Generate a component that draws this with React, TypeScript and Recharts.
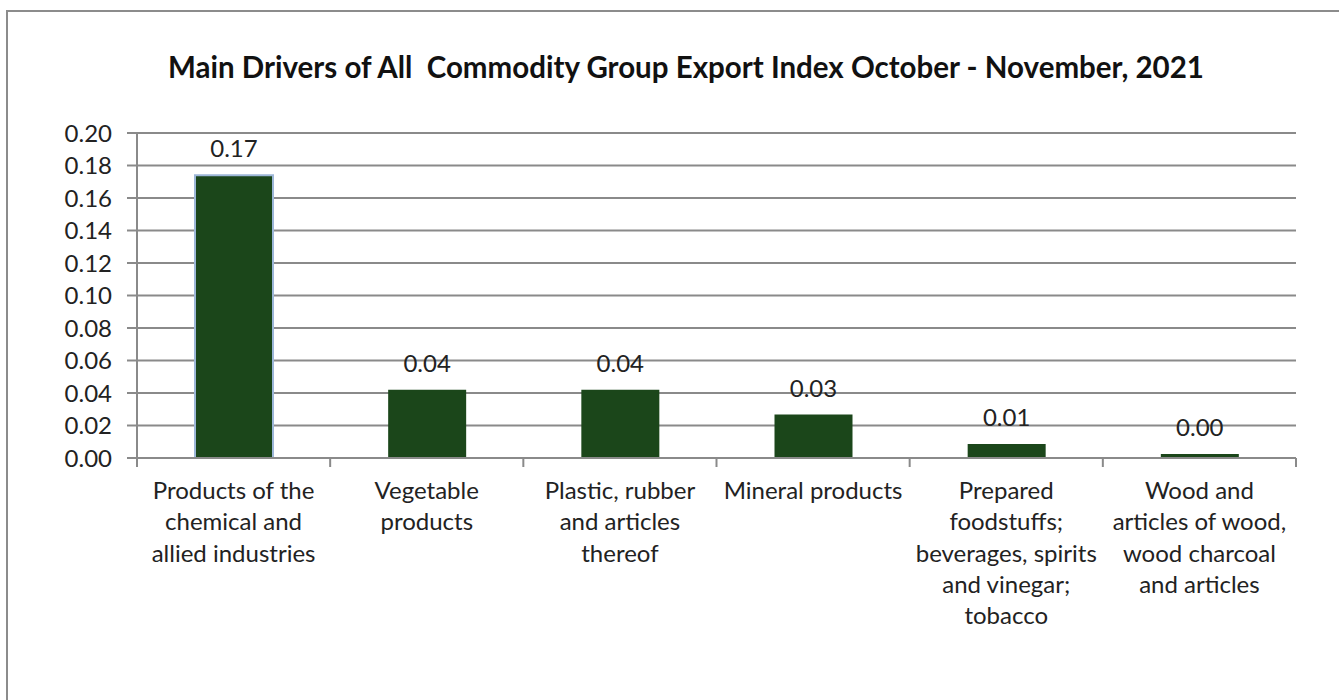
import React from 'react';
import { BarChart, Bar, XAxis, YAxis, CartesianGrid, LabelList, Cell } from 'recharts';

const categories = [
  'Products of the chemical and allied industries',
  'Vegetable products',
  'Plastic, rubber and articles thereof',
  'Mineral products',
  'Prepared foodstuffs; beverages, spirits and vinegar; tobacco',
  'Wood and articles of wood, wood charcoal and articles',
];

// wrapped tick label lines, as in the picture
const categoryLines = [
  ['Products of the', 'chemical and', 'allied industries'],
  ['Vegetable', 'products'],
  ['Plastic, rubber', 'and articles', 'thereof'],
  ['Mineral products'],
  ['Prepared', 'foodstuffs;', 'beverages, spirits', 'and vinegar;', 'tobacco'],
  ['Wood and', 'articles of wood,', 'wood charcoal', 'and articles'],
];

const values = [0.174, 0.042, 0.042, 0.0267, 0.0086, 0.0025];

const yTicks = [0, 0.02, 0.04, 0.06, 0.08, 0.1, 0.12, 0.14, 0.16, 0.18, 0.2];

const title = 'Main Drivers of All  Commodity Group Export Index October - November, 2021';

const data = categories.map((name, i) => ({ name, value: values[i] }));

const FONT = 'Lato, "Open Sans", sans-serif';
const GRID = '#8a8a8a';
const BAR = '#1b461a';

const CHART_W = 1339;
const CHART_H = 700;
const BAND = (1295.7 - 136.7) / categories.length;

function CategoryTick(props: any) {
  const { x, y, payload, index } = props;
  const lines = categoryLines[index] ?? [String(payload.value)];
  // recharts hands y a few px below the axis line; ticks sit just under the axis
  const top = y - 8;
  return (
    <g>
      <line x1={x - BAND / 2} y1={top} x2={x - BAND / 2} y2={top + 9} stroke={GRID} strokeWidth={2} />
      {index === categories.length - 1 && (
        <line x1={x + BAND / 2} y1={top} x2={x + BAND / 2} y2={top + 9} stroke={GRID} strokeWidth={2} />
      )}
      <text x={x} y={top + 41} textAnchor="middle" fontFamily={FONT} fontSize={24} fill="#222">
        {lines.map((l: string, i: number) => (
          <tspan key={i} x={x} dy={i === 0 ? 0 : 31.3}>
            {l}
          </tspan>
        ))}
      </text>
    </g>
  );
}

export default function App() {
  return (
    <div style={{ position: 'absolute', left: 0, top: 0, width: CHART_W, height: CHART_H, background: '#fff' }}>
      <div
        style={{
          position: 'absolute',
          left: 6,
          top: 10,
          width: 1345,
          height: 700,
          border: '2px solid #8c8c8c',
          boxSizing: 'border-box',
        }}
      />
      <div
        style={{
          position: 'absolute',
          left: 0,
          width: 1372,
          top: 47,
          textAlign: 'center',
          fontFamily: FONT,
          fontWeight: 'bold',
          fontSize: 29.5,
          lineHeight: '40px',
          color: '#111',
          whiteSpace: 'pre',
        }}
      >
        {title}
      </div>
      <BarChart
        width={CHART_W}
        height={CHART_H}
        data={data}
        margin={{ top: 133, right: 43, left: 0, bottom: 0 }}
        style={{ position: 'absolute', left: 0, top: 0 }}
      >
        <CartesianGrid vertical={false} stroke={GRID} strokeWidth={2} />
        <XAxis
          dataKey="name"
          height={242}
          interval={0}
          tickLine={false}
          axisLine={{ stroke: GRID, strokeWidth: 2 }}
          tick={<CategoryTick />}
        />
        <YAxis
          width={137}
          domain={[0, 0.2]}
          ticks={yTicks}
          interval={0}
          tickSize={10}
          tickMargin={15}
          tickLine={{ stroke: GRID, strokeWidth: 2 }}
          axisLine={{ stroke: GRID, strokeWidth: 2 }}
          tickFormatter={(v: number) => v.toFixed(2)}
          tick={{ fontFamily: FONT, fontSize: 24, fill: '#222' }}
        />
        <Bar dataKey="value" barSize={78} fill={BAR} isAnimationActive={false}>
          {data.map((d, i) => (
            <Cell key={d.name} stroke={i === 0 ? '#9db7d8' : 'none'} strokeWidth={i === 0 ? 2 : 0} />
          ))}
          <LabelList
            dataKey="value"
            position="top"
            offset={18}
            formatter={(v: any) => Number(v).toFixed(2)}
            style={{ fontFamily: FONT, fontSize: 24, fill: '#222' }}
          />
        </Bar>
      </BarChart>
    </div>
  );
}
